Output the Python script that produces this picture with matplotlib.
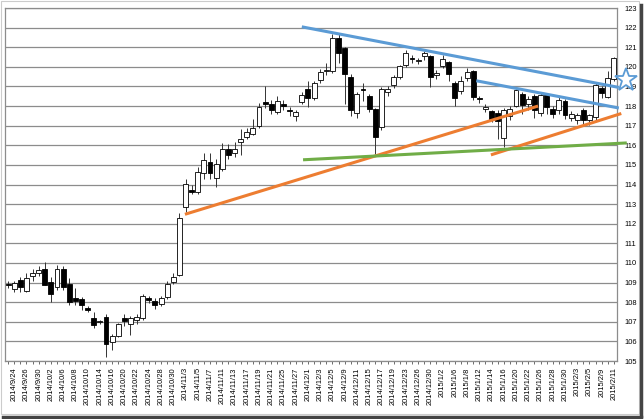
import numpy as np
import pandas as pd
import matplotlib
matplotlib.use("Agg")
import matplotlib.pyplot as plt
from matplotlib.lines import Line2D
from matplotlib.patches import Rectangle

plt.rcParams["font.family"] = ["Liberation Sans", "DejaVu Sans"]

# ─── DATA ────────────────────────────────────────────
days = pd.bdate_range("2014-09-23", "2015-02-11")
days = days[~days.isin(pd.to_datetime(["2014-12-25", "2015-01-01"]))]
labels = [f"{d.year}/{d.month}/{d.day}" for d in days]

opens = [108.92, 108.67, 109.15, 108.55, 109.35, 109.50, 109.70, 109.05, 108.75, 109.70,
         108.95, 108.20, 108.15, 107.70, 107.20, 106.98, 107.23, 105.95, 106.30, 107.20,
         106.87, 107.10, 107.20, 108.20, 108.05, 107.90, 108.25, 109.03, 109.37, 112.87,
         113.70, 113.63, 114.60, 115.15, 114.34, 114.81, 115.82, 115.62, 116.15, 116.41,
         116.58, 117.00, 118.20, 118.12, 117.68, 118.08, 117.82, 117.51, 118.19, 118.86,
         118.41, 119.32, 119.78, 119.80, 121.49, 120.95, 119.46, 117.63, 118.85, 118.53,
         117.85, 116.92, 118.73, 119.07, 119.50, 120.08, 120.47, 120.30, 120.56, 120.56,
         119.58, 120.05, 120.25, 119.20, 118.78, 119.45, 119.80, 118.42, 117.83, 117.73,
         117.66, 116.37, 117.49, 118.00, 118.63, 118.12, 118.50, 117.66, 118.58, 117.86,
         117.78, 118.24, 117.39, 117.27, 117.78, 117.27, 117.44, 118.93, 118.46, 119.39]
highs = [109.10, 109.10, 109.30, 109.50, 109.70, 109.85, 110.05, 109.30, 109.90, 109.85,
         109.25, 108.70, 108.25, 107.80, 107.50, 107.10, 107.40, 106.40, 106.95, 107.38,
         107.30, 107.40, 108.40, 108.30, 108.20, 108.30, 109.07, 109.50, 112.53, 114.27,
         113.97, 114.90, 115.60, 115.60, 115.30, 116.10, 116.08, 116.15, 116.84, 116.90,
         117.33, 118.17, 119.03, 118.30, 118.50, 118.30, 117.95, 117.80, 118.70, 119.29,
         119.30, 119.90, 120.20, 121.66, 121.70, 121.00, 119.63, 118.70, 119.20, 118.60,
         117.90, 118.95, 119.00, 119.60, 120.10, 120.85, 120.60, 120.45, 120.80, 120.60,
         119.85, 120.60, 120.30, 119.30, 119.55, 119.93, 119.85, 118.50, 118.10, 117.80,
         117.80, 117.90, 118.00, 118.90, 118.70, 118.50, 118.60, 118.65, 118.65, 118.00,
         118.45, 118.35, 117.75, 117.65, 117.90, 117.60, 119.20, 119.00, 119.80, 120.50]
lows = [108.70, 108.50, 108.50, 108.50, 109.10, 109.35, 108.85, 108.00, 108.60, 108.60,
        107.85, 107.85, 107.60, 107.50, 106.70, 106.90, 105.20, 105.55, 106.20, 106.80,
        106.35, 106.90, 107.10, 107.95, 107.63, 107.80, 108.14, 108.95, 109.32, 112.60,
        113.54, 113.50, 114.30, 114.30, 113.88, 114.70, 115.30, 115.40, 115.48, 116.30,
        116.50, 116.90, 117.90, 117.60, 117.60, 117.80, 117.50, 117.25, 118.10, 117.93,
        118.30, 119.20, 119.60, 119.70, 120.22, 118.10, 117.50, 117.40, 118.27, 117.70,
        115.56, 116.80, 118.50, 118.90, 119.40, 120.00, 120.20, 120.15, 120.35, 118.95,
        119.40, 119.95, 119.30, 118.00, 118.60, 119.30, 118.30, 118.15, 117.70, 117.20,
        116.34, 115.92, 117.30, 117.95, 117.60, 117.80, 117.40, 117.50, 117.60, 117.40,
        117.60, 117.35, 117.25, 117.10, 117.10, 117.05, 117.30, 118.40, 118.40, 119.30]
closes = [108.85, 109.00, 108.75, 109.25, 109.50, 109.65, 108.90, 108.40, 109.70, 108.75,
          108.00, 108.05, 107.85, 107.60, 106.85, 107.02, 105.88, 106.30, 106.90, 107.02,
          107.17, 107.24, 108.30, 108.10, 107.85, 108.20, 108.93, 109.27, 112.31, 114.05,
          113.63, 114.64, 115.23, 114.60, 115.06, 115.80, 115.52, 115.79, 116.30, 116.66,
          116.88, 117.97, 118.12, 117.78, 118.27, 118.02, 117.74, 117.68, 118.58, 118.41,
          119.20, 119.76, 119.83, 121.46, 120.70, 119.65, 117.80, 118.64, 118.80, 117.85,
          116.41, 118.86, 118.86, 119.46, 120.02, 120.73, 120.42, 120.33, 120.70, 119.46,
          119.71, 120.42, 119.63, 118.39, 119.27, 119.72, 118.46, 118.37, 117.95, 117.36,
          117.22, 117.78, 117.86, 118.80, 118.03, 118.37, 117.78, 118.54, 117.95, 117.61,
          118.29, 117.53, 117.61, 117.53, 117.27, 117.53, 119.05, 118.68, 119.42, 120.44]

# trend lines: (start index, start price, end index, end price)
blue_upper = (48.0, 122.04, 99.8, 118.95)
blue_lower = (76.5, 119.29, 99.8, 117.90)
orange_long = (28.9, 112.48, 86.6, 118.00)
orange_short = (78.9, 115.51, 100.2, 117.62)
green_line = (48.2, 115.26, 101.1, 116.12)
star_point = (101.0, 119.35)

BLUE = "#5B9BD5"; ORANGE = "#ED7D31"; GREEN = "#70AD47"

# ─── PLOT ────────────────────────────────────────────
fig = plt.figure(figsize=(6.44, 4.19), dpi=100)
ax = fig.add_axes([5 / 644, 1 - 361 / 419, 612 / 644, 353 / 419])

o = np.array(opens); h = np.array(highs); l = np.array(lows); c = np.array(closes)
x = np.arange(len(o))
up = c >= o

ax.vlines(x, l, h, color="#333333", lw=0.7, zorder=3)
body_lo = np.minimum(o, c)
body_h = np.maximum(np.abs(c - o), 0.04)
ax.bar(x, body_h, bottom=body_lo, width=0.8,
       color=np.where(up, "white", "black"), edgecolor="black", lw=0.6, zorder=4)

for (x0, y0, x1, y1), col in [(blue_upper, BLUE), (blue_lower, BLUE),
                              (orange_long, ORANGE), (orange_short, ORANGE),
                              (green_line, GREEN)]:
    ax.plot([x0, x1], [y0, y1], color=col, lw=2.2, zorder=5,
            solid_capstyle="butt", clip_on=False)

ax.plot(*star_point, marker="*", ms=17, mfc="white", mec=BLUE, mew=1.3,
        zorder=6, clip_on=False)

ax.set_xlim(-0.5, len(o) - 0.5)
ax.set_ylim(105, 123)
ax.set_yticks(range(105, 124))
ax.yaxis.tick_right()
ax.tick_params(axis="y", length=0, labelsize=5.4, pad=5)
ax.set_xticks(x)
ax.set_xticklabels([lb if i % 2 == 1 else "" for i, lb in enumerate(labels)],
                   rotation=90, fontsize=5.4)
ax.tick_params(axis="x", length=2.5, width=0.6, color="#555555", pad=2)
ax.grid(axis="y", color="#8C8C8C", lw=0.9)
ax.set_axisbelow(True)
for s in ax.spines.values():
    s.set_color("#8C8C8C"); s.set_linewidth(0.9)

# screenshot frame: light border, dark shadow on right and bottom
fig.patches.append(Rectangle((0.5 / 644, 5 / 419), 638 / 644, 413 / 419,
                             transform=fig.transFigure, fill=False,
                             ec="#CCCCCC", lw=0.8, zorder=-1))
fig.lines.append(Line2D([640.5 / 644, 640.5 / 644], [3 / 419, 414 / 419],
                        transform=fig.transFigure, color="#444444", lw=2.5))
fig.lines.append(Line2D([3 / 644, 641 / 644], [2.5 / 419, 2.5 / 419],
                        transform=fig.transFigure, color="#444444", lw=2.5))

fig.savefig("out.png", dpi=100, facecolor="white")
